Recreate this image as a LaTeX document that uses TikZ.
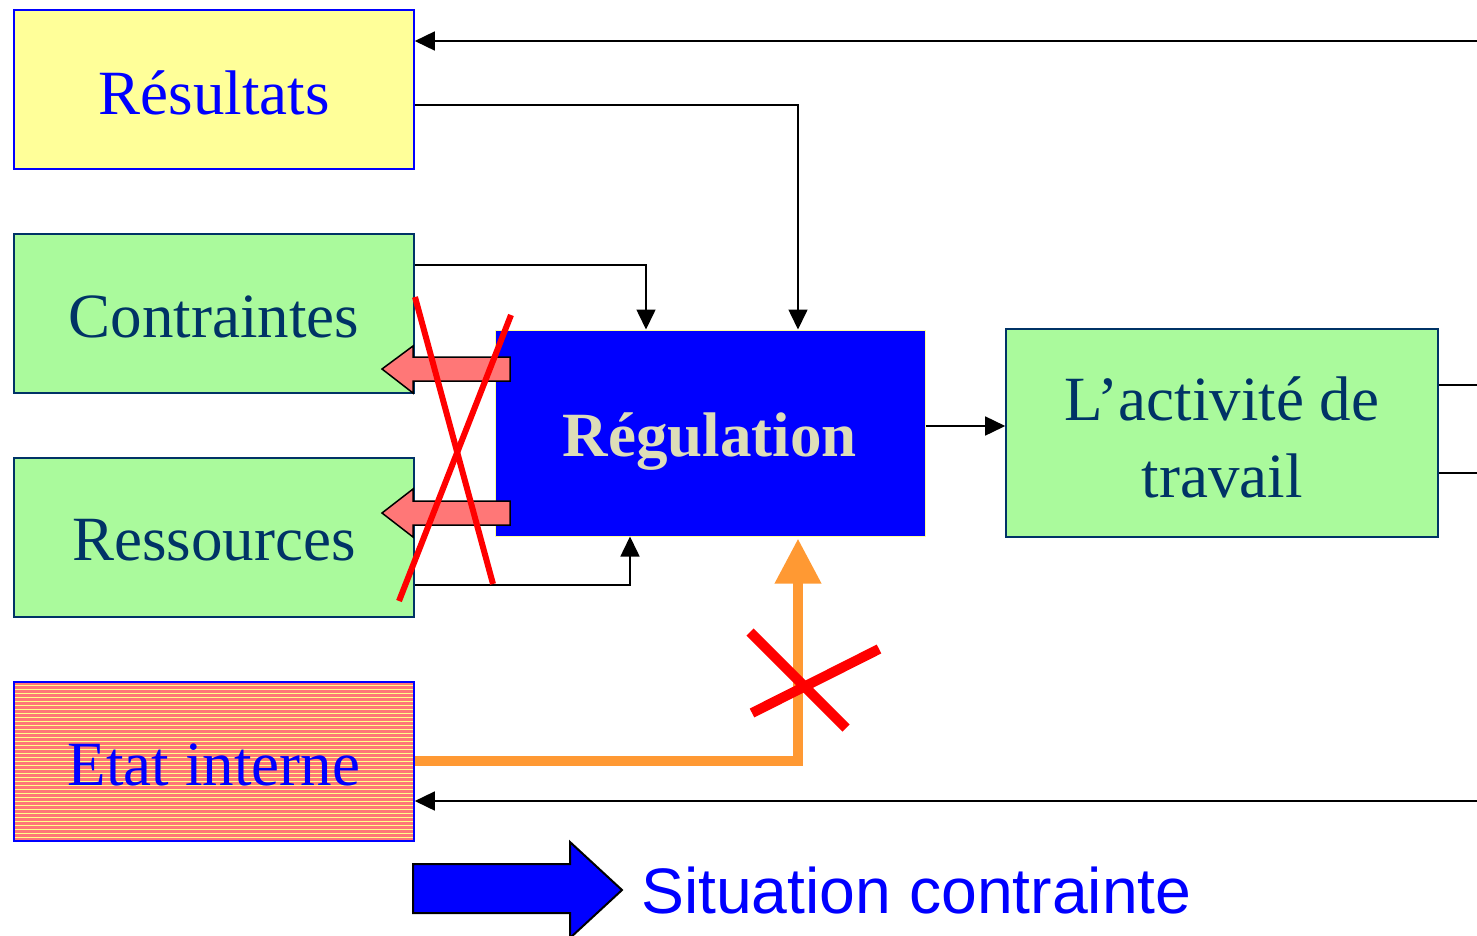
\documentclass[tikz,border=0pt]{standalone}
\usepackage{fontspec}
\setmainfont{Liberation Serif}
\newfontfamily\sansf{Liberation Sans}
\usetikzlibrary{arrows.meta,calc}
\definecolor{yelbox}{HTML}{FFFF99}
\definecolor{grnbox}{HTML}{AAFA9C}
\definecolor{darktxt}{HTML}{003366}
\definecolor{regtxt}{HTML}{DDDDB8}
\definecolor{salmon}{HTML}{FF7777}
\definecolor{orng}{HTML}{FF9933}
\definecolor{stripe}{HTML}{FFFF88}
\newcommand\lowertxt[2]{\raisebox{-#1}[\height][\depth]{#2}}
\begin{document}
\begin{tikzpicture}[x=1pt,y=-1pt,
  box/.style={rectangle,inner sep=0pt,line width=1.6pt,minimum width=400pt,minimum height=159pt,
    font=\fontsize{63}{75.6}\selectfont,align=center},
  yellowbox/.style={box,draw=blue,fill=yelbox,text=blue},
  greenbox/.style={box,draw=darktxt,fill=grnbox,text=darktxt},
  conn/.style={line width=1.6pt,-{Triangle[length=20pt,width=19pt]}},
  redx/.style={draw=red,line width=6pt},
  fatarrow/.style={draw=black,line width=1.5pt,fill=salmon}]
\useasboundingbox (0,0) rectangle (1477,935);

\node[yellowbox] (res) at (214,89.5) {\lowertxt{3pt}{Résultats}};
\node[greenbox] (con) at (214,313.5) {\lowertxt{3pt}{Contraintes}};
\node[greenbox] (ress) at (214,537.5) {\lowertxt{3pt}{Ressources}};
\node[box,draw=blue,fill=salmon,text=blue,
  path picture={\foreach \k in {1,...,40}{\draw[stripe,line width=0.8pt]
     ($(path picture bounding box.north west)+(0,4*\k-1)$) -- ++(400,0);}}]
  (etat) at (214,761.5) {\lowertxt{3pt}{Etat interne}};

\node[box,draw=yelbox,line width=1pt,fill=blue,text=regtxt,minimum width=430pt,minimum height=206pt,
  font=\fontsize{63}{75.6}\selectfont\bfseries] (reg) at (710,433) {\lowertxt{9pt}{Régulation}};
\node[greenbox,minimum width=432pt,minimum height=208pt] (act) at (1222,433)
  {\lowertxt{11pt}{\begin{tabular}{@{}c@{}}L’activité de\\[1.5pt]travail\end{tabular}}};

\coordinate (rtop) at (1477,41);
\coordinate (rbot) at (1477,801);
\coordinate (ra) at (1477,385);
\coordinate (rb) at (1477,473);

% connectors
\draw[conn] (rtop) -- (res.east |- rtop);
\draw[conn] (res.east |- 0,105) -- (798,105) -- (reg.north -| 798,0);
\draw[conn] (con.east |- 0,265) -- (646,265) -- (reg.north -| 646,0);
\draw[conn] (ress.east |- 0,585) -- (630,585) -- (reg.south -| 630,0);
\draw[conn] (reg.east |- 0,426) -- (act.west |- 0,426);
\draw[line width=1.6pt] (act.east |- ra) -- (ra);
\draw[line width=1.6pt] (act.east |- rb) -- (rb);
\draw[conn] (rbot) -- (etat.east |- rbot);

% orange blocked link
\draw[orng,line width=10pt,-{Triangle[length=45pt,width=44pt]}]
  (etat.east |- 0,761) -- (798,761) -- ([yshift=-2pt]reg.south -| 798,0);

% pink fat arrows
\draw[fatarrow] (510,357) -- (413,357) -- (413,346) -- (382,369) -- (413,393) -- (413,381) -- (510,381) -- cycle;
\draw[fatarrow] (510,501) -- (413,501) -- (413,489) -- (382,513) -- (413,537) -- (413,525) -- (510,525) -- cycle;

% red crosses
\draw[redx] (415,297) -- (493,584);
\draw[redx] (511,315) -- (399,601);
\draw[redx,line width=10pt] (750,632) -- (846,728);
\draw[redx,line width=10pt] (752,713) -- (879,649);

% legend
\draw[draw=black,line width=2pt,fill=blue] (413,864) -- (570,864) -- (570,842) -- (622,890) -- (570,938) -- (570,913) -- (413,913) -- cycle;
\node[anchor=base west,inner sep=0pt,text=blue,font=\sansf\fontsize{64.3}{77}\selectfont] (leg) at (641,913) {Situation contrainte};
\end{tikzpicture}
\end{document}
